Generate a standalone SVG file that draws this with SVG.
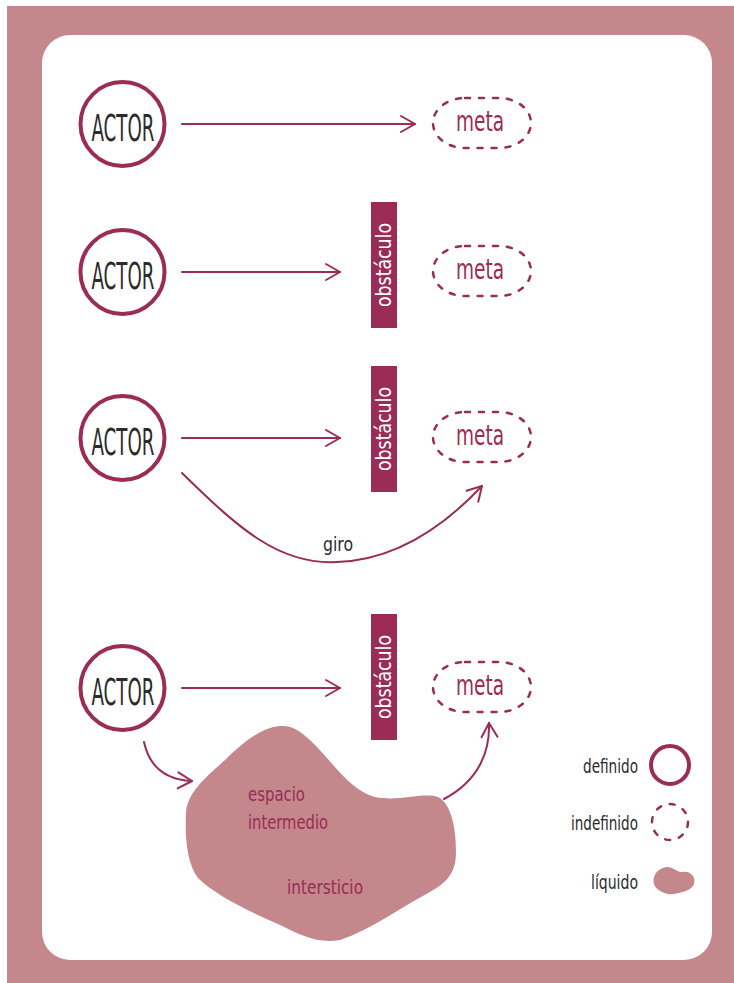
<svg xmlns="http://www.w3.org/2000/svg" width="734" height="983" viewBox="0 0 734 983">
  <defs>
    <style>
      .actor circle { fill: #fff; stroke: #9a2c55; stroke-width: 4; }
      .actor text { font-family: "DejaVu Sans Condensed", "DejaVu Sans", sans-serif; font-size: 38px; fill: #2b2b2b; text-anchor: middle; }
      .meta rect { fill: none; stroke: #9a2c55; stroke-width: 2.5; stroke-dasharray: 5 9; stroke-linecap: round; }
      .meta text { font-family: "DejaVu Sans Condensed", "DejaVu Sans", sans-serif; font-size: 28px; fill: #9a2c55; text-anchor: middle; }
      .obst rect { fill: #9a2c55; }
      .obst text { font-family: "DejaVu Sans Condensed", "DejaVu Sans", sans-serif; font-size: 21px; fill: #fff; text-anchor: middle; }
      .conn path { fill: none; stroke: #9a2c55; stroke-width: 2; stroke-linecap: round; stroke-linejoin: round; }
      .label { font-family: "DejaVu Sans Condensed", "DejaVu Sans", sans-serif; font-size: 20px; fill: #2b2b2b; }
      .blobtext { font-family: "DejaVu Sans Condensed", "DejaVu Sans", sans-serif; font-size: 20px; fill: #9a2c55; }
      .liquid { fill: #c4878c; }
    </style>
    <marker id="chev" viewBox="0 0 20 20" refX="18" refY="10" markerWidth="20" markerHeight="20" markerUnits="userSpaceOnUse" orient="auto">
      <path d="M4 2 L18 10 L4 18" fill="none" stroke="#9a2c55" stroke-width="2" stroke-linecap="round" stroke-linejoin="round"/>
    </marker>
  </defs>

  <!-- frame -->
  <rect x="0" y="0" width="734" height="983" fill="#ffffff"/>
  <rect x="7" y="6" width="727" height="977" fill="#c4878c"/>
  <rect x="42" y="35" width="670" height="925" rx="28" fill="#ffffff"/>

  <!-- connectors -->
  <g id="connectors" class="conn">
    <path d="M182 124 H415" marker-end="url(#chev)"/>
    <path d="M182 272 H340" marker-end="url(#chev)"/>
    <path d="M182 438 H340" marker-end="url(#chev)"/>
    <path d="M182 688 H340" marker-end="url(#chev)"/>
    <path d="M182 473 C240 530 280 565 337 562 C400 560 450 520 482 486" marker-end="url(#chev)"/>
    <path d="M144 742 C150 770 170 780 192 781" marker-end="url(#chev)"/>
    <path d="M444 799 C480 780 490 750 489 723" marker-end="url(#chev)"/>
  </g>

  <!-- row 1 -->
  <g id="actor1" class="actor">
    <circle cx="122.5" cy="124" r="42"/>
    <text x="123" y="141" textLength="63" lengthAdjust="spacingAndGlyphs">ACTOR</text>
  </g>
  <g id="meta1" class="meta">
    <rect x="433" y="98" width="98" height="50" rx="32" ry="25"/>
    <text x="480" y="131" textLength="48" lengthAdjust="spacingAndGlyphs">meta</text>
  </g>

  <!-- row 2 -->
  <g id="actor2" class="actor">
    <circle cx="122.5" cy="272" r="42"/>
    <text x="123" y="289" textLength="63" lengthAdjust="spacingAndGlyphs">ACTOR</text>
  </g>
  <g id="obstacle2" class="obst">
    <rect x="371" y="202" width="26" height="126"/>
    <text transform="translate(391 265) rotate(-90)" textLength="84" lengthAdjust="spacingAndGlyphs">obstáculo</text>
  </g>
  <g id="meta2" class="meta">
    <rect x="433" y="246" width="98" height="50" rx="32" ry="25"/>
    <text x="480" y="279" textLength="48" lengthAdjust="spacingAndGlyphs">meta</text>
  </g>

  <!-- row 3 -->
  <g id="actor3" class="actor">
    <circle cx="122.5" cy="438" r="42"/>
    <text x="123" y="455" textLength="63" lengthAdjust="spacingAndGlyphs">ACTOR</text>
  </g>
  <g id="obstacle3" class="obst">
    <rect x="371" y="366" width="26" height="126"/>
    <text transform="translate(391 429) rotate(-90)" textLength="84" lengthAdjust="spacingAndGlyphs">obstáculo</text>
  </g>
  <g id="meta3" class="meta">
    <rect x="433" y="412" width="98" height="50" rx="32" ry="25"/>
    <text x="480" y="445" textLength="48" lengthAdjust="spacingAndGlyphs">meta</text>
  </g>
  <text class="label" x="338" y="551" text-anchor="middle" textLength="30" lengthAdjust="spacingAndGlyphs">giro</text>

  <!-- row 4 -->
  <g id="actor4" class="actor">
    <circle cx="122.5" cy="688" r="42"/>
    <text x="123" y="705" textLength="63" lengthAdjust="spacingAndGlyphs">ACTOR</text>
  </g>
  <g id="obstacle4" class="obst">
    <rect x="371" y="614" width="26" height="126"/>
    <text transform="translate(391 677) rotate(-90)" textLength="84" lengthAdjust="spacingAndGlyphs">obstáculo</text>
  </g>
  <g id="meta4" class="meta">
    <rect x="433" y="662" width="98" height="50" rx="32" ry="25"/>
    <text x="480" y="695" textLength="48" lengthAdjust="spacingAndGlyphs">meta</text>
  </g>

  <!-- liquid in-between space -->
  <g id="interstice">
    <path class="liquid" d="M270 728 C290 722 300 730 315 745 C335 765 350 790 375 797 C400 802 420 792 438 797 C452 804 456 830 456 852 C456 872 448 882 430 892 C400 908 370 930 340 940 C318 944 300 935 280 925 C250 912 215 895 198 878 C186 862 185 835 186 812 C188 792 205 778 225 760 C240 745 255 733 270 728 Z"/>
    <text class="blobtext" x="248" y="801" textLength="57" lengthAdjust="spacingAndGlyphs">espacio</text>
    <text class="blobtext" x="248" y="829" textLength="80" lengthAdjust="spacingAndGlyphs">intermedio</text>
    <text class="blobtext" x="287" y="894" textLength="76" lengthAdjust="spacingAndGlyphs">intersticio</text>
  </g>

  <!-- legend -->
  <g id="legend-defined">
    <text class="label" x="638" y="773" text-anchor="end" textLength="55" lengthAdjust="spacingAndGlyphs">definido</text>
    <circle cx="670" cy="765" r="19" fill="none" stroke="#9a2c55" stroke-width="4"/>
  </g>
  <g id="legend-undefined">
    <text class="label" x="638" y="830" text-anchor="end" textLength="67" lengthAdjust="spacingAndGlyphs">indefinido</text>
    <circle cx="670" cy="822" r="18" fill="none" stroke="#9a2c55" stroke-width="2.5" stroke-dasharray="5 9" stroke-linecap="round"/>
  </g>
  <g id="legend-liquid">
    <text class="label" x="638" y="889" text-anchor="end" textLength="47" lengthAdjust="spacingAndGlyphs">líquido</text>
    <path class="liquid" d="M663 868 C670 864 676 872 682 872 C690 871 696 876 694 884 C692 890 684 892 674 894 C664 895 656 890 654 884 C652 876 657 870 663 868 Z"/>
  </g>
</svg>
